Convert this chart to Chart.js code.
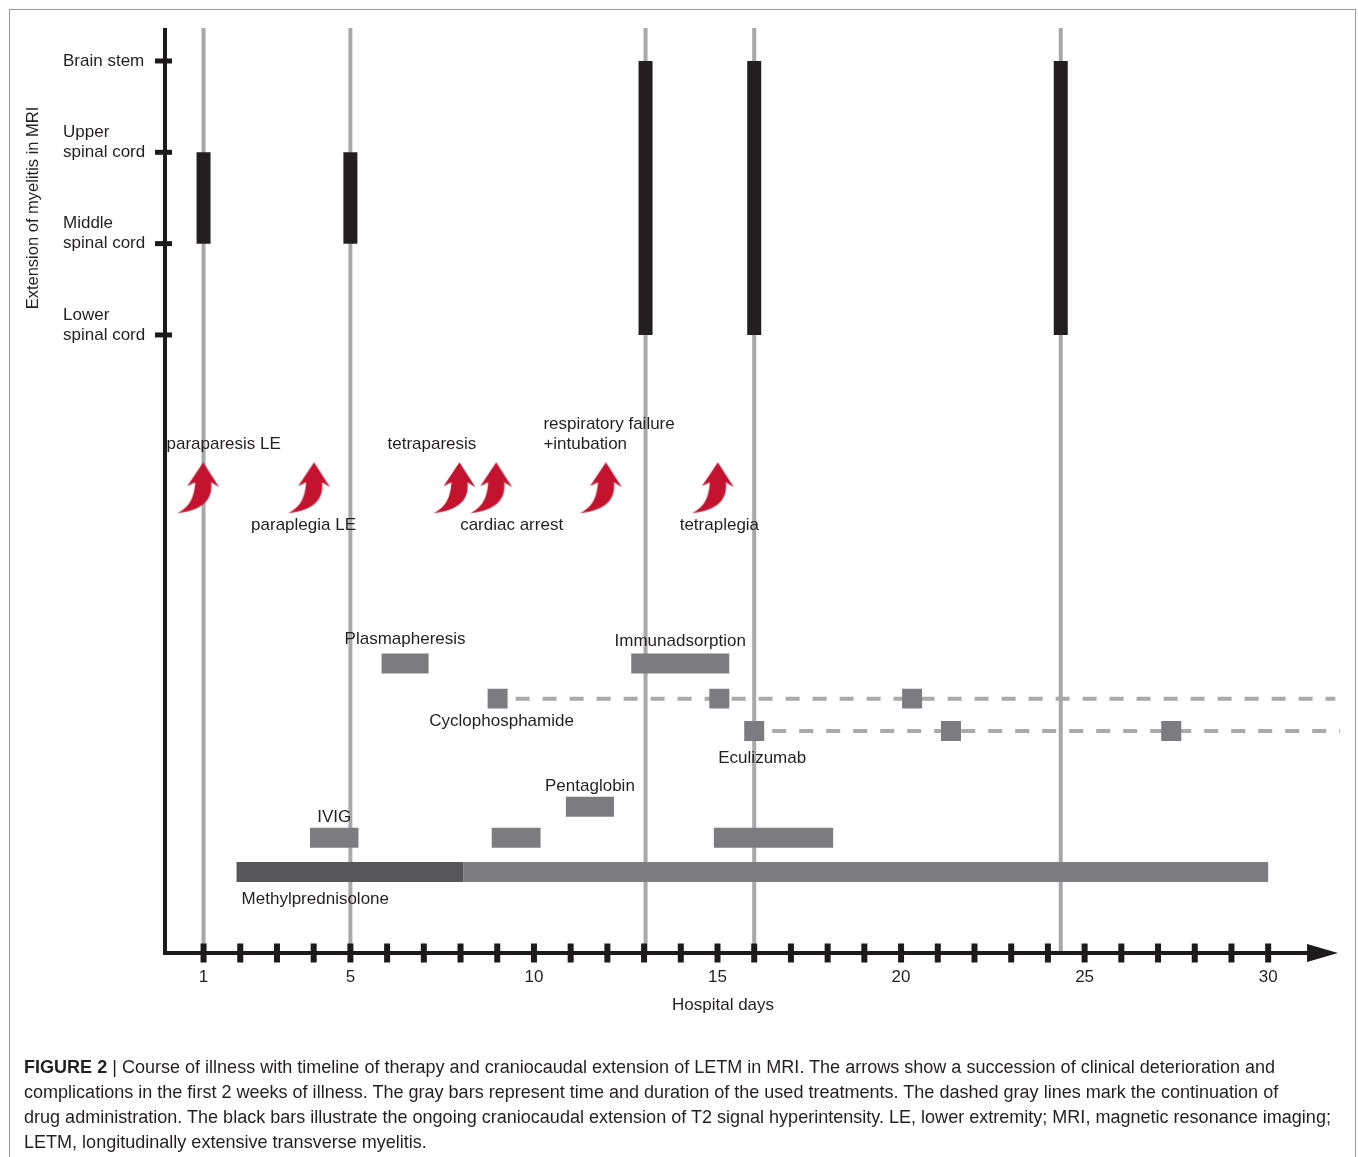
<!DOCTYPE html>
<html>
<head>
<meta charset="utf-8">
<title>Course of illness</title>
<script src="https://cdn.jsdelivr.net/npm/chart.js@4.4.0/dist/chart.umd.min.js"></script>
<style>
  html, body { margin: 0; padding: 0; background: #fff; }
  body { width: 1358px; height: 1157px; position: relative; overflow: hidden;
         font-family: "Liberation Sans", Arial, Helvetica, sans-serif; }
  #chart { position: absolute; left: 0; top: 0; }
  #frame { position: absolute; left: 9px; top: 9px; width: 1347px; height: 1170px;
           border: 1px solid #9a9a9a; border-bottom: none; box-sizing: border-box; }
  #caption { position: absolute; left: 24px; top: 1055px; font-size: 18.05px; line-height: 25px;
             color: #231f20; white-space: nowrap; }
  #caption b { font-weight: bold; }
</style>
</head>
<body>
<canvas id="chart" width="1358" height="1040"></canvas>
<div id="frame"></div>
<div id="caption">
  <b>FIGURE 2</b> | Course of illness with timeline of therapy and craniocaudal extension of LETM in MRI. The arrows show a succession of clinical deterioration and<br>
  complications in the first 2 weeks of illness. The gray bars represent time and duration of the used treatments. The dashed gray lines mark the continuation of<br>
  drug administration. The black bars illustrate the ongoing craniocaudal extension of T2 signal hyperintensity. LE, lower extremity; MRI, magnetic resonance imaging;<br>
  LETM, longitudinally extensive transverse myelitis.
</div>
<script>
//Datos: niveles de la RM (1 = medula inferior ... 4 = tronco)
const mriLevels = ['Lower\nspinal cord', 'Middle\nspinal cord', 'Upper\nspinal cord', 'Brain stem'];
const mriLevelValues = [1, 2, 3, 4];
const mriDays = [1, 5, 13.04, 16, 24.35];
const mriFrom = [2, 2, 1, 1, 1];
const mriTo = [3, 3, 4, 4, 4];

//Dias del eje x
const dayTicks = [1, 2, 3, 4, 5, 6, 7, 8, 9, 10, 11, 12, 13, 14, 15, 16, 17, 18, 19, 20,
                  21, 22, 23, 24, 25, 26, 27, 28, 29, 30];
const dayLabels = [1, 5, 10, 15, 20, 25, 30];

//Eventos clinicos (flechas)
const events = ['paraparesis LE', 'paraplegia LE', 'tetraparesis', 'cardiac arrest',
                'respiratory failure\n+intubation', 'tetraplegia'];
const eventDays = [0.84, 3.86, 7.82, 8.82, 11.81, 14.86];
const eventLane = 10.06;

//Tratamientos: fila de cada farmaco
const drugs = ['Methylprednisolone', 'IVIG', 'Pentaglobin', 'Eculizumab', 'Cyclophosphamide',
               'Plasmapheresis', 'Immunadsorption'];
const drugLane = [1.75, 2.49, 3.16, 4.8, 5.5, 6.26, 6.26];

//Periodos de tratamiento (dias)
const periodDrug = ['Methylprednisolone', 'Methylprednisolone', 'IVIG', 'IVIG', 'IVIG',
                    'Pentaglobin', 'Plasmapheresis', 'Immunadsorption'];
const periodStart = [1.9, 8.08, 3.9, 8.85, 14.9, 10.87, 5.85, 12.65];
const periodEnd = [8.08, 30.0, 5.22, 10.18, 18.15, 12.18, 7.13, 15.32];

//Dosis sueltas y continuacion
const cycloDoses = [9.01, 15.05, 20.3];
const ecuDoses = [16.0, 21.36, 27.36];
const cycloUntil = 31.83;
const ecuUntil = 31.96;

//Estilos y disposicion
const FONT = '"Liberation Sans", Arial, Helvetica, sans-serif';
const INK = '#231f20';
const AXIS = '#1c1a1b';
const BAR = '#7c7c80';
const BAR_DARK = '#57575a';
const DAY_LINE = '#a8a8aa';
const DASH = '#a9a9ab';
const darkPeriods = [0];
const laneMin = 0, laneMax = 20;
const arrowBaseDay = 31.06, arrowTipDay = 31.9;
const yTitleAt = 2.39, xTitleAt = 15.15;

const eventLabelSide = ['above', 'below', 'above', 'below', 'above', 'below'];
const eventLabelAlign = ['center', 'center', 'center', 'center', 'left', 'center'];
const eventLabelDx = [26, -5, -22, 21, -57, 7];

const drugLabelLayout = {
  'Methylprednisolone': { align: 'left', dx: 5, dy: 27 },
  'IVIG': { align: 'center', dx: 0, dy: -21 },
  'Pentaglobin': { align: 'center', dx: 0, dy: -21 },
  'Eculizumab': { align: 'center', dx: 8, dy: 27 },
  'Cyclophosphamide': { align: 'center', dx: 4, dy: 22.5 },
  'Plasmapheresis': { align: 'center', dx: 0, dy: -24 },
  'Immunadsorption': { align: 'center', dx: 0, dy: -22 }
};

//Flecha roja curva como imagen de punto
const makeArrow = () => {
  const c = document.createElement('canvas');
  c.width = 46;
  c.height = 56;
  const g = c.getContext('2d');
  g.translate(2.5, 2.5);
  g.fillStyle = '#c3132f';
  g.beginPath();
  g.moveTo(26, 0);
  g.lineTo(42, 25);
  g.lineTo(34, 20);
  g.bezierCurveTo(36, 37, 26, 48, 0, 51);
  g.bezierCurveTo(10, 46, 17, 38, 18, 20);
  g.lineTo(10, 24);
  g.closePath();
  g.fill();
  return c;
};

const laneOf = (drug) => drugLane[drugs.indexOf(drug)];

//Armo los datasets
const datasets = [];
mriDays.forEach((d, i) => {
  datasets.push({
    label: 'MRI ' + d, yAxisID: 'mri', showLine: true,
    data: [{ x: d, y: mriFrom[i] }, { x: d, y: mriTo[i] }],
    borderColor: INK, borderWidth: 14, borderCapStyle: 'butt', pointRadius: 0, order: 0
  });
  datasets.push({
    label: 'MRI day ' + d, yAxisID: 'lane', showLine: true,
    data: [{ x: d, y: laneMin }, { x: d, y: laneMax }],
    borderColor: DAY_LINE, borderWidth: 4, borderCapStyle: 'butt', pointRadius: 0, order: 4
  });
});

periodDrug.forEach((drug, i) => {
  const lane = laneOf(drug);
  datasets.push({
    label: drug, yAxisID: 'lane', showLine: true,
    data: [{ x: periodStart[i], y: lane }, { x: periodEnd[i], y: lane }],
    borderColor: darkPeriods.includes(i) ? BAR_DARK : BAR,
    borderWidth: 20, borderCapStyle: 'butt', pointRadius: 0, order: 1
  });
});

[['Cyclophosphamide', cycloDoses, cycloUntil], ['Eculizumab', ecuDoses, ecuUntil]].forEach(([drug, doses, until]) => {
  const lane = laneOf(drug);
  datasets.push({
    label: drug, yAxisID: 'lane',
    data: doses.map((d) => ({ x: d, y: lane })),
    pointStyle: 'rect', pointRadius: 14.14, backgroundColor: BAR, borderWidth: 0, order: 1
  });
  datasets.push({
    label: drug + ' continued', yAxisID: 'lane', showLine: true,
    data: [{ x: doses[0], y: lane }, { x: until, y: lane }],
    borderColor: DASH, borderWidth: 4, borderDash: [14, 13], borderDashOffset: 9,
    borderCapStyle: 'butt', pointRadius: 0, order: 2
  });
});

datasets.push({
  label: 'Clinical events', yAxisID: 'lane',
  data: eventDays.map((d) => ({ x: d, y: eventLane })),
  pointStyle: makeArrow(), pointRadius: 20, order: 0
});

//Ejes, marcas y textos
const timelineDecor = {
  id: 'timelineDecor',
  afterDatasetsDraw(chart) {
    const { ctx, chartArea: a, scales: { x, mri, lane } } = chart;
    ctx.save();
    ctx.fillStyle = AXIS;
    ctx.fillRect(a.left - 2, a.top, 4, a.bottom - a.top + 2);
    const baseX = x.getPixelForValue(arrowBaseDay);
    const tipX = x.getPixelForValue(arrowTipDay);
    ctx.fillRect(a.left - 2, a.bottom - 2, baseX - a.left + 4, 4);
    ctx.beginPath();
    ctx.moveTo(baseX, a.bottom - 9);
    ctx.lineTo(tipX, a.bottom);
    ctx.lineTo(baseX, a.bottom + 9);
    ctx.closePath();
    ctx.fill();
    x.ticks.forEach((t) => {
      const px = x.getPixelForValue(t.value);
      ctx.fillRect(px - 3, a.bottom - 9.5, 6, 19);
    });
    mri.ticks.forEach((t) => {
      const py = mri.getPixelForValue(t.value);
      ctx.fillRect(a.left - 10, py - 2.5, 17, 5);
    });

    ctx.fillStyle = INK;
    ctx.font = '17px ' + FONT;
    ctx.textBaseline = 'middle';

    //Etiquetas del eje y
    ctx.textAlign = 'left';
    mriLevelValues.forEach((v, i) => {
      const lines = mriLevels[i].split('\n');
      const py = mri.getPixelForValue(v);
      lines.forEach((ln, j) => ctx.fillText(ln, mri.left, py - (lines.length - 1 - j) * 20));
    });

    //Titulos de ejes
    ctx.save();
    ctx.font = '16.5px ' + FONT;
    ctx.translate(33, mri.getPixelForValue(yTitleAt));
    ctx.rotate(-Math.PI / 2);
    ctx.textAlign = 'center';
    ctx.fillText('Extension of myelitis in MRI', 0, 0);
    ctx.restore();
    ctx.textAlign = 'center';
    ctx.fillText('Hospital days', x.getPixelForValue(xTitleAt), a.bottom + 52);

    //Textos de eventos
    const ey = lane.getPixelForValue(eventLane);
    eventDays.forEach((d, i) => {
      const px = x.getPixelForValue(d) + eventLabelDx[i];
      const lines = events[i].split('\n');
      ctx.textAlign = eventLabelAlign[i];
      lines.forEach((ln, j) => {
        const y = eventLabelSide[i] === 'above'
          ? ey - 43 - (lines.length - 1 - j) * 20
          : ey + 37.5 + j * 20;
        ctx.fillText(ln, px, y);
      });
    });

    //Textos de tratamientos
    drugs.forEach((drug) => {
      const L = drugLabelLayout[drug];
      const pi = periodDrug.indexOf(drug);
      let s, e;
      if (pi >= 0) {
        s = periodStart[pi];
        e = periodEnd[pi];
      } else {
        s = e = (drug === 'Cyclophosphamide' ? cycloDoses : ecuDoses)[0];
      }
      const py = lane.getPixelForValue(laneOf(drug)) + L.dy;
      ctx.textAlign = L.align;
      const px = L.align === 'left'
        ? x.getPixelForValue(s) + L.dx
        : (x.getPixelForValue(s) + x.getPixelForValue(e)) / 2 + L.dx;
      ctx.fillText(drug, px, py);
    });
    ctx.restore();
  }
};

Chart.defaults.font.family = FONT;
Chart.defaults.color = INK;

new Chart(document.getElementById('chart'), {
  type: 'scatter',
  data: { datasets },
  options: {
    responsive: false,
    animation: false,
    events: [],
    layout: { autoPadding: false, padding: { left: 63, right: 16.4, top: 28, bottom: 0 } },
    plugins: { legend: { display: false }, tooltip: { enabled: false } },
    scales: {
      x: {
        type: 'linear', min: -0.05, max: 32,
        grid: { display: false, drawTicks: false },
        border: { display: false },
        afterBuildTicks: (s) => { s.ticks = dayTicks.map((v) => ({ value: v })); },
        afterFit: (s) => {
          s.height = 87;
          s.paddingLeft = 0;
          s.paddingRight = 0;
        },
        ticks: {
          autoSkip: false, maxRotation: 0, padding: 14, color: INK,
          font: { size: 17 },
          callback: (v) => (dayLabels.includes(v) ? String(v) : '')
        }
      },
      mri: {
        type: 'linear', position: 'left', min: -5.767, max: 4.361,
        grid: { display: false, drawTicks: false },
        border: { display: false },
        ticks: { display: false },
        afterBuildTicks: (s) => { s.ticks = mriLevelValues.map((v) => ({ value: v })); },
        afterFit: (s) => {
          s.width = 102;
          s.paddingTop = 0;
          s.paddingBottom = 0;
        }
      },
      lane: { type: 'linear', display: false, min: laneMin, max: laneMax }
    }
  },
  plugins: [timelineDecor]
});
</script>
</body>
</html>
